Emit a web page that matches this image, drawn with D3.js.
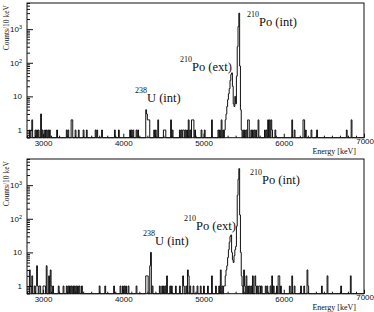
<!DOCTYPE html>
<html>
<head>
<meta charset="utf-8">
<script src="https://cdn.jsdelivr.net/npm/d3@7"></script>
<style>
  body { margin: 0; background: #fff; }
  svg { display: block; font-family: "Liberation Serif", "DejaVu Serif", serif; }
</style>
</head>
<body>
<svg id="chart" width="374" height="312"></svg>
<script>
// non-empty 10 keV bins: bin start energy (keV) and counts
const topEnergies = [
  2830, 2850, 2860, 2900, 2920, 2940, 2970, 2990, 3020, 3040,
  3060, 3080, 3170, 3290, 3310, 3350, 3360, 3400, 3440, 3500,
  3540, 3650, 3670, 3730, 3890, 3940, 4080, 4100, 4120, 4160,
  4180, 4280, 4290, 4300, 4310, 4320, 4380, 4400, 4430, 4500,
  4510, 4520, 4590, 4610, 4700, 4720, 4740, 4750, 4770, 4790,
  4810, 4830, 4850, 4860, 4870, 4890, 4970, 5010, 5100, 5180,
  5200, 5220, 5240,
  5260, 5270, 5280, 5290, 5300, 5310, 5320, 5330, 5340, 5350,
  5360, 5370, 5380, 5390, 5400, 5410, 5420, 5430, 5440, 5450,
  5460, 5470,
  5490, 5510, 5530, 5550, 5560, 5590, 5610, 5630, 5650, 5680,
  5760, 5780, 5800, 5820, 5840, 5850, 5890, 6100, 6130, 6240,
  6250, 6270, 6340, 6410, 6780, 6840,
];
const topCounts = [
  1, 1, 2, 1, 1, 1, 3, 1, 1, 1,
  1, 1, 1, 1, 1, 2, 2, 1, 1, 1,
  1, 1, 1, 1, 1, 1, 1, 1, 1, 1,
  1, 4, 3, 2, 2, 2, 1, 1, 2, 1,
  1, 1, 2, 1, 1, 1, 1, 1, 1, 1,
  2, 1, 2, 2, 2, 1, 1, 1, 2, 1,
  1, 2, 1,
  1, 2, 3, 5, 8, 12, 17, 30, 45, 50,
  20, 6, 5, 10, 6, 40, 300, 1200, 3000, 80,
  4, 1,
  1, 1, 1, 2, 2, 1, 1, 1, 1, 2,
  1, 1, 2, 2, 2, 1, 1, 2, 1, 2,
  2, 1, 1, 1, 1, 2,
];

const bottomEnergies = [
  2830, 2840, 2860, 2890, 2910, 2920, 2930, 2950, 2960, 3000,
  3010, 3020, 3040, 3070, 3090, 3100, 3120, 3190, 3250, 3290,
  3310, 3330, 3350, 3370, 3390, 3410, 3430, 3450, 3480, 3700,
  3770, 3880, 3960, 3990, 4010, 4030, 4060, 4160, 4280, 4290,
  4300, 4330, 4340, 4360, 4450, 4480, 4500, 4520, 4540, 4580,
  4600, 4650, 4700, 4740, 4750, 4780, 4800, 4810, 4830, 4870,
  4920, 4960, 5000, 5050, 5100, 5150, 5190, 5210, 5230,
  5250, 5260, 5270, 5280, 5290, 5300, 5310, 5320, 5330, 5340,
  5350, 5360, 5370, 5380, 5390, 5400, 5410, 5420, 5430, 5440,
  5450, 5460, 5470, 5480,
  5500, 5510, 5530, 5550, 5570, 5590, 5610, 5640, 5650, 5670,
  5690, 5700, 5720, 5770, 5790, 5830, 5850, 5870, 5910, 5930,
  5940, 5960, 6070, 6100, 6130, 6210, 6250, 6290, 6300, 6470,
  6540, 6710, 6830,
];
const bottomCounts = [
  3, 1, 2, 1, 1, 4, 1, 1, 1, 1,
  1, 1, 4, 2, 3, 1, 1, 1, 1, 1,
  1, 1, 1, 1, 1, 1, 1, 1, 1, 1,
  1, 1, 1, 1, 1, 1, 1, 1, 2, 2,
  2, 4, 10, 1, 1, 1, 1, 1, 2, 1,
  1, 1, 1, 2, 1, 1, 3, 2, 1, 1,
  1, 1, 1, 1, 2, 1, 1, 3, 1,
  1, 1, 2, 3, 4, 7, 12, 20, 30, 33,
  10, 6, 5, 8, 12, 15, 60, 500, 1500, 3100,
  130, 10, 2, 1,
  3, 1, 2, 1, 1, 1, 2, 2, 1, 1,
  1, 1, 1, 1, 1, 1, 2, 1, 1, 2,
  2, 1, 1, 2, 1, 1, 1, 3, 1, 1,
  2, 1, 2,
];

const binWidth = 10;
const energyRange = [2800, 7000];
const countRange = [0.59, 6000];
const xTickValues = [3000, 4000, 5000, 6000, 7000];
const yTickValues = [1, 10, 100, 1000];
const peakIsotopes = ['238', '210', '210'];
const peakNames = ['U (int)', 'Po (ext)', 'Po (int)'];

const svg = d3.select('#chart');

const frame = { left: 27, right: 364, height: 134.7 };

const x = d3.scaleLinear()
  .domain(energyRange)
  .range([frame.left, frame.right]);

const y = d3.scaleLog()
  .domain(countRange)
  .range([frame.height, 0]);

function drawPanel(top, energies, counts, labelSpots) {
  const g = svg.append('g').attr('transform', `translate(0,${top})`);

  // full histogram, empty bins stay at zero
  const nBins = (energyRange[1] - energyRange[0]) / binWidth;
  const bins = Array(nBins).fill(0);
  energies.forEach((e, i) => {
    bins[(e - energyRange[0]) / binWidth] = counts[i];
  });

  const pts = [[energyRange[0], 0]];
  bins.forEach((c, i) => pts.push([energyRange[0] + i * binWidth, c]));
  pts.push([energyRange[1], bins[nBins - 1]]);
  pts.push([energyRange[1], 0]);

  const line = d3.line()
    .curve(d3.curveStepAfter)
    .x(d => x(d[0]))
    .y(d => d[1] > 0 ? y(d[1]) : frame.height);

  g.append('path')
    .attr('d', line(pts))
    .attr('fill', 'none')
    .attr('stroke', '#111')
    .attr('stroke-width', 1);

  // y axis: minor then major ticks, pointing into the frame
  const minorY = [];
  for (let p = -1; p <= 3; p++) {
    for (let k = 2; k <= 9; k++) {
      const v = k * Math.pow(10, p);
      if (v >= countRange[0] && v <= countRange[1]) minorY.push(v);
    }
  }
  g.append('g')
    .attr('transform', `translate(${frame.left},0)`)
    .call(d3.axisLeft(y).tickValues(minorY).tickSizeInner(-3).tickSizeOuter(0).tickFormat(''))
    .call(a => a.select('.domain').remove());

  const yAxis = g.append('g')
    .attr('transform', `translate(${frame.left},0)`)
    .call(d3.axisLeft(y).tickValues(yTickValues).tickSizeInner(-6).tickSizeOuter(0).tickPadding(5)
      .tickFormat(d => d))
    .call(a => a.select('.domain').remove());
  yAxis.selectAll('text')
    .attr('font-family', null)
    .attr('font-size', 8)
    .attr('fill', '#111')
    .each(function(d) {
      if (d >= 100) {
        const t = d3.select(this).text('');
        t.append('tspan').text('10');
        t.append('tspan').text(Math.round(Math.log10(d)))
          .attr('font-size', 5.5).attr('dy', '-0.5em');
      }
    });

  // x axis
  const minorX = d3.range(energyRange[0], energyRange[1] + 1, 100)
    .filter(v => v % 1000 !== 0);
  g.append('g')
    .attr('transform', `translate(0,${frame.height})`)
    .call(d3.axisBottom(x).tickValues(minorX).tickSizeInner(-2).tickSizeOuter(0).tickFormat(''))
    .call(a => a.select('.domain').remove());

  const xAxis = g.append('g')
    .attr('transform', `translate(0,${frame.height})`)
    .call(d3.axisBottom(x).tickValues(xTickValues).tickSizeInner(-4).tickSizeOuter(0).tickPadding(3)
      .tickFormat(d => d))
    .call(a => a.select('.domain').remove());
  xAxis.selectAll('text')
    .attr('font-family', null)
    .attr('font-size', 8)
    .attr('fill', '#111');
  xAxis.selectAll('.tick')
    .filter(d => d === 7000)
    .select('text')
    .attr('text-anchor', 'end')
    .attr('x', 9.5)
    .attr('y', 0.5);

  g.selectAll('.tick line').attr('stroke', '#111');

  // frame
  g.append('rect')
    .attr('x', frame.left)
    .attr('y', 0)
    .attr('width', frame.right - frame.left)
    .attr('height', frame.height)
    .attr('fill', 'none')
    .attr('stroke', '#111')
    .attr('stroke-width', 1);

  // axis titles
  g.append('text')
    .attr('transform', `translate(8.5,2) rotate(-90)`)
    .attr('text-anchor', 'end')
    .attr('font-size', 7.5)
    .attr('fill', '#111')
    .text('Counts/10 keV');

  g.append('text')
    .attr('x', 356)
    .attr('y', frame.height + 16.5)
    .attr('text-anchor', 'end')
    .attr('font-size', 8)
    .attr('fill', '#111')
    .text('Energy [keV]');

  // peak labels
  labelSpots.forEach((s, i) => {
    const t = g.append('text')
      .attr('x', s[0])
      .attr('y', s[1])
      .attr('fill', '#111');
    t.append('tspan').text(peakIsotopes[i]).attr('font-size', 8).attr('dy', -9);
    t.append('tspan').text(peakNames[i]).attr('font-size', 12.5).attr('dy', 9);
  });
}

drawPanel(3, topEnergies, topCounts, [[135, 99], [180, 68], [247, 23]]);
drawPanel(159, bottomEnergies, bottomCounts, [[143, 86], [184, 71], [250, 25]]);
</script>
</body>
</html>
